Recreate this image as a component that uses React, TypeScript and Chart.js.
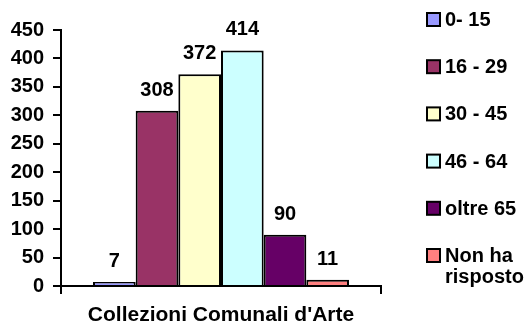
import React, { useEffect, useRef } from "react";
import { Chart, registerables } from "chart.js";

Chart.register(...registerables);

const categories = ["Collezioni Comunali d'Arte"];
const seriesLabels = ["0- 15", "16 - 29", "30 - 45", "46 - 64", "oltre 65", "Non ha risposto"];
const legendLines = [["0- 15"], ["16 - 29"], ["30 - 45"], ["46 - 64"], ["oltre 65"], ["Non ha", "risposto"]];
const seriesValues = [7, 308, 372, 414, 90, 11];
const seriesColors = ["#9999FF", "#993366", "#FFFFCC", "#CCFFFF", "#660066", "#FF8080"];
const yTicks = [0, 50, 100, 150, 200, 250, 300, 350, 400, 450];

const FONT = "'Liberation Sans', Arial, sans-serif";

const labelPlugin = {
  id: "barLabels",
  afterDatasetsDraw(chart: any) {
    const ctx = chart.ctx;
    ctx.save();
    ctx.font = `bold 20px ${FONT}`;
    ctx.fillStyle = "#000";
    ctx.textAlign = "center";
    ctx.textBaseline = "alphabetic";
    chart.data.datasets.forEach((ds: any, i: number) => {
      const meta = chart.getDatasetMeta(i);
      const el = meta.data[0];
      if (!el) return;
      ctx.fillText(String(ds.data[0]), el.x, el.y - 15);
    });
    ctx.restore();
  },
};

const legendPlugin = {
  id: "sideLegend",
  afterDraw(chart: any) {
    const ctx = chart.ctx;
    ctx.save();
    ctx.font = `bold 20px ${FONT}`;
    ctx.textAlign = "left";
    ctx.textBaseline = "middle";
    const boxX = 427;
    const box = 13;
    chart.data.datasets.forEach((ds: any, i: number) => {
      const cy = 19.5 + i * 47.2;
      ctx.fillStyle = ds.backgroundColor;
      ctx.fillRect(boxX, cy - box / 2, box, box);
      ctx.strokeStyle = "#000";
      ctx.lineWidth = 2;
      ctx.strokeRect(boxX, cy - box / 2, box, box);
      ctx.fillStyle = "#000";
      legendLines[i].forEach((line, j) => {
        ctx.fillText(line, 445, cy + 1 + j * 21);
      });
    });
    ctx.restore();
  },
};

export default function App() {
  const ref = useRef<HTMLCanvasElement | null>(null);
  useEffect(() => {
    if (!ref.current) return;
    const chart = new Chart(ref.current, {
      type: "bar",
      data: {
        labels: categories,
        datasets: seriesLabels.map((label, i) => ({
          label,
          data: [seriesValues[i]],
          backgroundColor: seriesColors[i],
          borderColor: "#000",
          borderWidth: 2,
          categoryPercentage: 0.8,
          barPercentage: 1.0,
        })),
      },
      options: {
        animation: false,
        responsive: true,
        maintainAspectRatio: false,
        layout: { padding: { top: 30, right: 148, left: 0, bottom: 0 } },
        plugins: {
          legend: { display: false },
          tooltip: { enabled: false },
        },
        scales: {
          x: {
            type: "category",
            offset: true,
            grid: {
              offset: true,
              drawOnChartArea: false,
              drawTicks: true,
              tickLength: 8,
              color: "#000",
              lineWidth: 2,
            },
            border: { display: true, color: "#000", width: 2 },
            ticks: {
              color: "#000",
              font: { family: FONT, size: 21, weight: "bold" },
              padding: 9,
            },
            afterFit: (scale: any) => {
              scale.height = 39;
            },
          },
          y: {
            min: 0,
            max: 450,
            afterBuildTicks: (scale: any) => {
              scale.ticks = yTicks.map((v) => ({ value: v }));
            },
            grid: {
              drawOnChartArea: false,
              drawTicks: true,
              tickLength: 8,
              color: "#000",
              lineWidth: 2,
            },
            border: { display: true, color: "#000", width: 2 },
            ticks: {
              color: "#000",
              font: { family: FONT, size: 20, weight: "bold" },
              padding: 9,
            },
            afterFit: (scale: any) => {
              scale.width = 61;
            },
          },
        },
      },
      plugins: [labelPlugin, legendPlugin],
    } as any);
    return () => chart.destroy();
  }, []);
  return (
    <div style={{ position: "absolute", left: 0, top: 0, width: 529, height: 325, background: "#fff" }}>
      <canvas ref={ref} />
    </div>
  );
}
